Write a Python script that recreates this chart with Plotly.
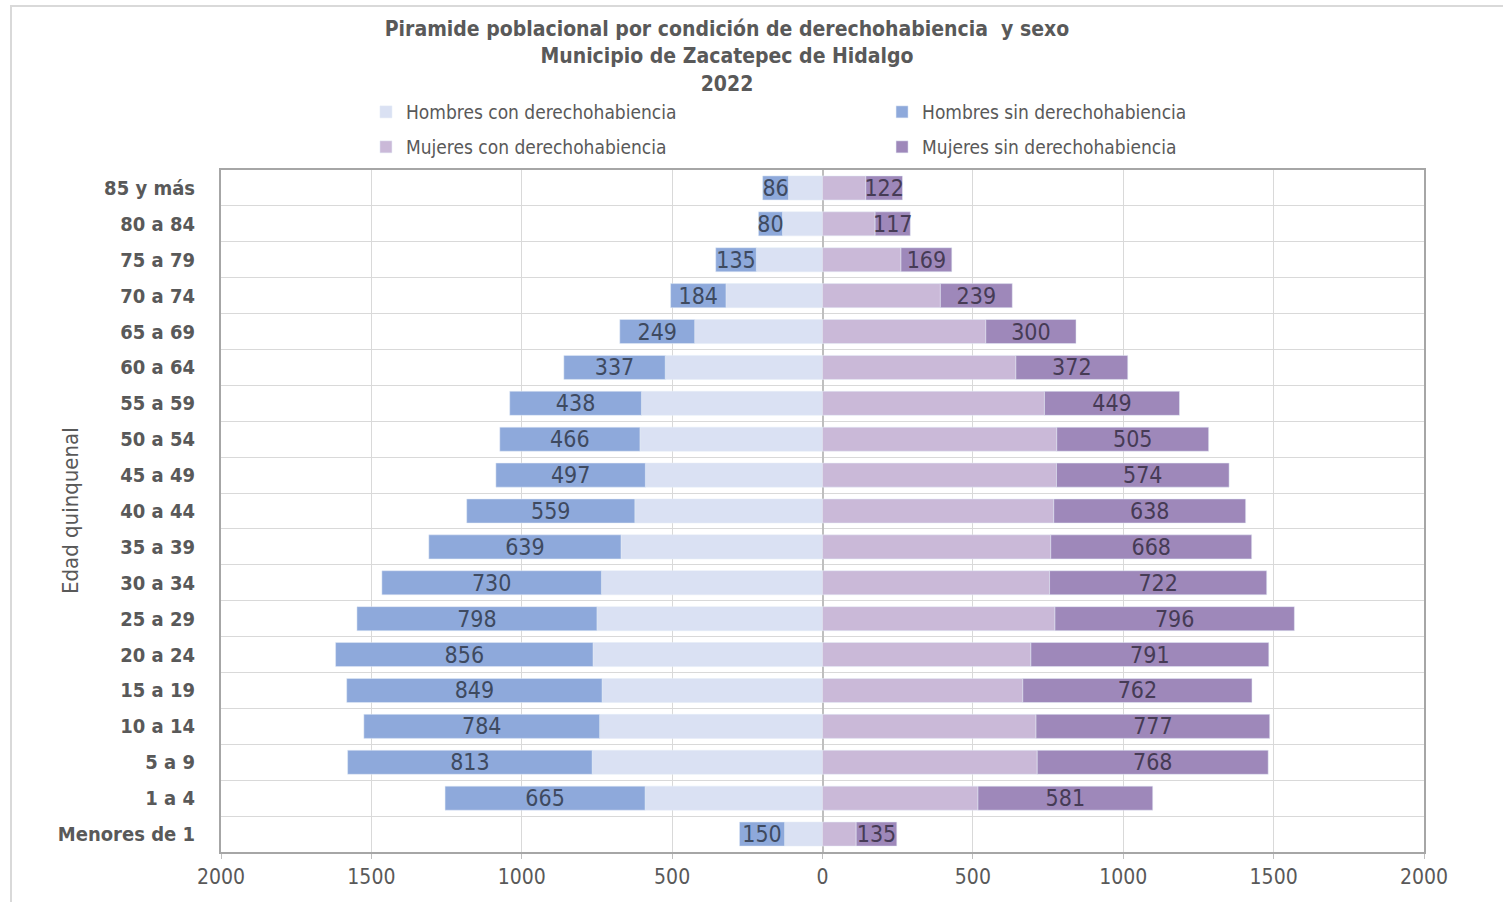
import plotly.graph_objects as go

# ---- data (bottom -> top) ----
age_groups = ["Menores de 1", "1 a 4", "5 a 9", "10 a 14", "15 a 19", "20 a 24",
              "25 a 29", "30 a 34", "35 a 39", "40 a 44", "45 a 49", "50 a 54",
              "55 a 59", "60 a 64", "65 a 69", "70 a 74", "75 a 79", "80 a 84", "85 y más"]
men_with = [126, 590, 766, 741, 733, 763, 750, 735, 670, 624, 589, 607, 602, 523, 425, 321, 220, 133, 113]
men_without = [150, 665, 813, 784, 849, 856, 798, 730, 639, 559, 497, 466, 438, 337, 249, 184, 135, 80, 86]
women_with = [112, 517, 714, 710, 666, 693, 773, 755, 759, 769, 778, 779, 738, 643, 543, 392, 261, 175, 144]
women_without = [135, 581, 768, 777, 762, 791, 796, 722, 668, 638, 574, 505, 449, 372, 300, 239, 169, 117, 122]
x_ticks = [-2000, -1500, -1000, -500, 0, 500, 1000, 1500, 2000]
x_ticktext = ["2000", "1500", "1000", "500", "0", "500", "1000", "1500", "2000"]

FONT = "Liberation Sans Narrow, Arial Narrow, DejaVu Sans Condensed, sans-serif"
GREY = "#595959"

fig = go.Figure()
fig.add_trace(go.Bar(y=age_groups, x=[-v for v in men_with], orientation="h",
                     name="Hombres con derechohabiencia", marker_color="#DAE1F3",
                     legend="legend", showlegend=True))
fig.add_trace(go.Bar(y=age_groups, x=[-v for v in men_without], orientation="h",
                     name="Hombres sin derechohabiencia", marker_color="#8EA9DB",
                     text=[str(v) for v in men_without], textposition="inside",
                     insidetextanchor="middle", textangle=0,
                     textfont=dict(family=FONT, size=23, color="#3E4A60"),
                     legend="legend2", showlegend=True))
fig.add_trace(go.Bar(y=age_groups, x=women_with, orientation="h",
                     name="Mujeres con derechohabiencia", marker_color="#CAB9D8",
                     legend="legend3", showlegend=True))
fig.add_trace(go.Bar(y=age_groups, x=women_without, orientation="h",
                     name="Mujeres sin derechohabiencia", marker_color="#9E88BA",
                     text=[str(v) for v in women_without], textposition="inside",
                     insidetextanchor="middle", textangle=0,
                     textfont=dict(family=FONT, size=23, color="#463B55"),
                     legend="legend4", showlegend=True))

leg = dict(orientation="v", xanchor="left", yanchor="middle", bgcolor="rgba(0,0,0,0)",
           font=dict(family=FONT, size=19, color=GREY), itemclick=False)

fig.update_layout(
    width=1503, height=902,
    margin=dict(l=221, r=79, t=170, b=50),
    paper_bgcolor="white", plot_bgcolor="white",
    showlegend=True,
    barmode="relative", bargap=0.33,
    font=dict(family=FONT, color=GREY),
    uniformtext=dict(minsize=23, mode="show"),
    title=dict(text="<b>Piramide poblacional por condición de derechohabiencia  y sexo<br>"
                    "Municipio de Zacatepec de Hidalgo<br>2022</b>",
               x=727 / 1503, xanchor="center", y=1 - 36 / 902, yanchor="top",
               font=dict(family=FONT, size=21, color=GREY)),
    legend=dict(leg, x=0.1205, y=1.085),
    legend2=dict(leg, x=0.5495, y=1.085),
    legend3=dict(leg, x=0.1205, y=1.0337),
    legend4=dict(leg, x=0.5495, y=1.0337),
    xaxis=dict(range=[-2000, 2000], tickvals=x_ticks, ticktext=x_ticktext,
               tickfont=dict(family=FONT, size=21, color=GREY),
               showgrid=True, gridcolor="#D9D9D9", gridwidth=1,
               zeroline=True, zerolinecolor="#BFBFBF", zerolinewidth=2,
               showline=True, mirror=True, linecolor="#A6A6A6", linewidth=2,
               ticks="outside", ticklen=5, tickcolor="#BFBFBF",
               fixedrange=True),
    yaxis=dict(type="category", tickson="boundaries", showgrid=True,
               gridcolor="#D9D9D9", gridwidth=1,
               showline=True, mirror=True, linecolor="#A6A6A6", linewidth=2,
               ticks="", ticklabelstandoff=20,
               tickfont=dict(family=FONT, size=20, color=GREY, weight="bold"),
               fixedrange=True),
    annotations=[dict(text="Edad quinquenal", xref="paper", yref="paper",
                      x=(70 - 221) / 1203, y=0.5, textangle=-90, showarrow=False,
                      xanchor="center", yanchor="middle",
                      font=dict(family=FONT, size=22, color=GREY))],
    shapes=[dict(type="rect", xref="paper", yref="paper",
                 x0=(11 - 221) / 1203, x1=(1515 - 221) / 1203,
                 y0=(852 - 915) / 682, y1=(852 - 6) / 682,
                 line=dict(color="#D9D9D9", width=2), layer="below")],
)

fig.write_html("out.html", config={"displayModeBar": False},
               post_script="document.body.style.margin='0';")
